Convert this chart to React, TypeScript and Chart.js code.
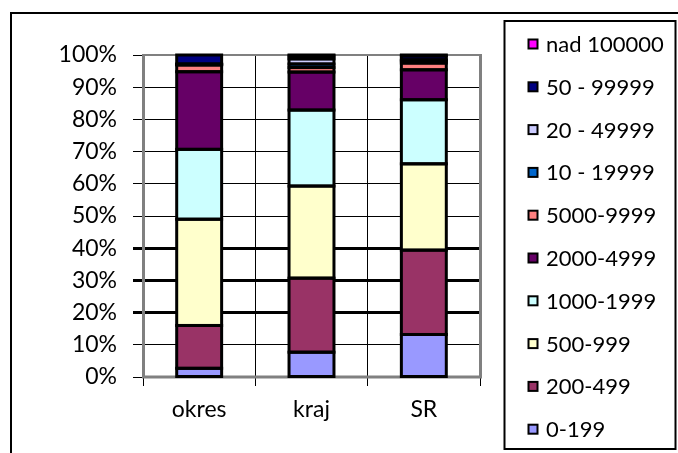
import React, { useEffect, useRef } from "react";
import { Chart, registerables } from "chart.js";

Chart.register(...registerables);

const categories = ["okres", "kraj", "SR"];

const seriesLabels = [
  "0-199",
  "200-499",
  "500-999",
  "1000-1999",
  "2000-4999",
  "5000-9999",
  "10 - 19999",
  "20 - 49999",
  "50 - 99999",
  "nad 100000",
];

const seriesColors = [
  "#9999FF",
  "#993366",
  "#FFFFCC",
  "#CCFFFF",
  "#660066",
  "#FF8080",
  "#0066CC",
  "#CCCCFF",
  "#000080",
  "#FF00FF",
];

// percentage shares per category: okres, kraj, SR
const s0_199 = [2.7, 7.7, 13.2];
const s200_499 = [13.3, 23.0, 26.2];
const s500_999 = [33.0, 28.6, 26.8];
const s1000_1999 = [21.7, 23.6, 19.9];
const s2000_4999 = [24.1, 11.8, 9.3];
const s5000_9999 = [2.1, 1.4, 2.1];
const s10_19999 = [0.2, 1.1, 0.7];
const s20_49999 = [0.1, 1.6, 0.3];
const s50_99999 = [2.8, 0.9, 1.2];
const sNad100000 = [0, 0.3, 0.3];

const seriesValues = [
  s0_199,
  s200_499,
  s500_999,
  s1000_1999,
  s2000_4999,
  s5000_9999,
  s10_19999,
  s20_49999,
  s50_99999,
  sNad100000,
];

const yTicks = [0, 10, 20, 30, 40, 50, 60, 70, 80, 90, 100];
const thickGrid = [20, 30, 40];

const FONT = "Lato, 'DejaVu Sans', sans-serif";
const FSIZE = 23;
const LEGEND_FSIZE = 22;

export default function App() {
  const ref = useRef<HTMLCanvasElement | null>(null);

  useEffect(() => {
    let chart: Chart | null = null;
    let cancelled = false;

    const framePlugin = {
      id: "frame",
      beforeDatasetsDraw(c: any) {
        const { ctx, chartArea } = c;
        ctx.save();
        ctx.strokeStyle = "#808080";
        ctx.lineWidth = 2;
        ctx.beginPath();
        ctx.moveTo(chartArea.left, chartArea.top);
        ctx.lineTo(chartArea.right, chartArea.top);
        ctx.stroke();
        ctx.lineWidth = 3;
        ctx.beginPath();
        ctx.moveTo(chartArea.left + 0.5, chartArea.top - 1);
        ctx.lineTo(chartArea.left + 0.5, chartArea.bottom);
        ctx.lineTo(chartArea.right + 0.5, chartArea.bottom);
        ctx.lineTo(chartArea.right + 0.5, chartArea.top - 1);
        ctx.stroke();
        ctx.restore();
      },
      afterDatasetsDraw(c: any) {
        const { ctx } = c;
        ctx.save();
        ctx.strokeStyle = "#000000";
        ctx.lineWidth = 3;
        c.data.datasets.forEach((_d: any, i: number) => {
          const meta = c.getDatasetMeta(i);
          meta.data.forEach((el: any) => {
            const h = el.base - el.y;
            if (Math.abs(h) < 0.01) return;
            ctx.strokeRect(el.x - el.width / 2, el.y, el.width, h);
          });
        });
        ctx.restore();
      },
      afterDraw(c: any) {
        const { ctx } = c;
        ctx.save();
        // outer chart border
        ctx.strokeStyle = "#000000";
        ctx.lineWidth = 2;
        ctx.strokeRect(11, 13, 1000, 1000);
        // legend box
        ctx.strokeRect(504.5, 21, 171, 428);
        // legend items (reverse order)
        const ds = c.data.datasets;
        ctx.font = LEGEND_FSIZE + "px " + FONT;
        ctx.textBaseline = "middle";
        ctx.textAlign = "left";
        for (let k = 0; k < ds.length; k++) {
          const d = ds[ds.length - 1 - k];
          const cy = 44 + k * 42.8;
          ctx.fillStyle = "#000000";
          ctx.fillRect(527.5, cy - 5.5, 11, 11);
          ctx.fillStyle = d.backgroundColor;
          ctx.fillRect(529.5, cy - 3.5, 7, 7);
          ctx.fillStyle = "#000000";
          ctx.fillText(d.label, 546, cy + 1);
        }
        ctx.restore();
      },
    };

    const build = () => {
      if (cancelled || !ref.current) return;
      chart = new Chart(ref.current, {
        type: "bar",
        data: {
          labels: categories,
          datasets: seriesLabels.map((label, i) => ({
            label,
            data: seriesValues[i],
            backgroundColor: seriesColors[i],
            borderWidth: 0,
            barPercentage: 0.4,
            categoryPercentage: 1,
          })),
        },
        options: {
          animation: false,
          responsive: false,
          maintainAspectRatio: false,
          layout: { padding: { left: 0, right: 198, top: 55, bottom: 0 } },
          plugins: {
            legend: { display: false },
            tooltip: { enabled: false },
          },
          scales: {
            x: {
              stacked: true,
              border: { display: false },
              grid: {
                offset: true,
                color: "#000000",
                lineWidth: 1,
                tickLength: 9,
                tickColor: "#000000",
              },
              ticks: {
                color: "#000000",
                font: { family: FONT, size: FSIZE },
                padding: 10,
              },
              afterFit(scale: any) {
                scale.height = 76;
              },
            },
            y: {
              stacked: true,
              min: 0,
              max: 100,
              border: { display: false },
              afterBuildTicks(scale: any) {
                scale.ticks = yTicks.map((v) => ({ value: v }));
              },
              grid: {
                color: "#000000",
                lineWidth: (ctx: any) =>
                  ctx.tick && thickGrid.includes(ctx.tick.value) ? 3 : 1,
                tickLength: 10,
                tickColor: "#000000",
              },
              ticks: {
                color: "#000000",
                font: { family: FONT, size: FSIZE },
                padding: 16,
                callback: (v: any) => v + "%",
              },
              afterFit(scale: any) {
                scale.width = 143;
              },
            },
          },
        },
        plugins: [framePlugin],
      });
    };

    if ((document as any).fonts && (document as any).fonts.load) {
      (document as any).fonts.load(FSIZE + "px Lato").then(build, build);
    } else {
      build();
    }

    return () => {
      cancelled = true;
      if (chart) chart.destroy();
    };
  }, []);

  return (
    <div
      style={{
        position: "fixed",
        left: 0,
        top: 0,
        width: 678,
        height: 453,
        background: "#ffffff",
      }}
    >
      <canvas ref={ref} width={678} height={453} style={{ display: "block" }} />
    </div>
  );
}
